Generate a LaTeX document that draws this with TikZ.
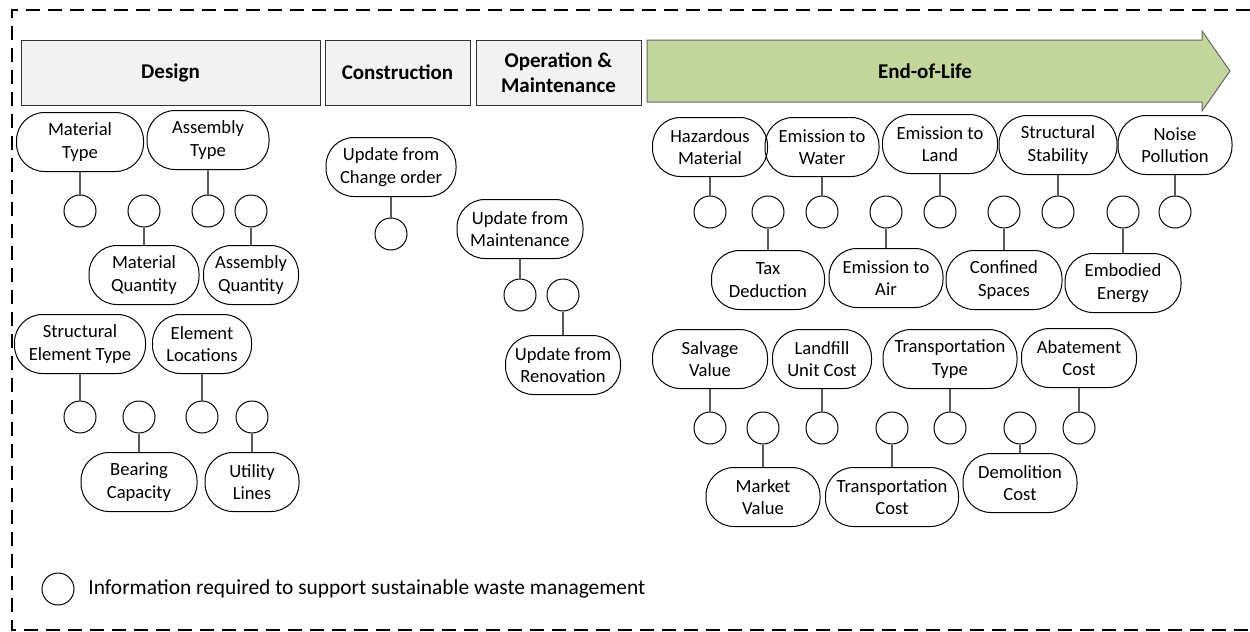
\documentclass[tikz,border=0pt]{standalone}
\usepackage{fontspec}
\setmainfont{Carlito}
\definecolor{eolgreen}{HTML}{C3D69B}
\definecolor{hdrgray}{HTML}{F2F2F2}
\definecolor{conngray}{HTML}{595959}
\begin{document}
\begin{tikzpicture}[x=0.5pt,y=-0.5pt,
  pill/.style={draw=black, line width=0.5pt, rounded corners=14pt, minimum height=29.5pt, inner sep=0pt, align=center, font=\fontsize{9.3}{11.3}\selectfont},
  circ/.style={draw=black, circle, minimum size=16pt, inner sep=0pt, line width=0.5pt},
  conn/.style={draw=conngray, line width=0.6pt},
  hdr/.style={draw=black!80, fill=hdrgray, line width=0.5pt, minimum height=32.5pt, inner sep=0pt, align=center, font=\fontsize{10.5}{12.6}\selectfont\bfseries},
  border/.style={draw=black, line width=0.6pt, dash pattern=on 7pt off 4pt}
]
\useasboundingbox (0,0) rectangle (1250,632);
% frame
\draw[border] (1250,10) -- (12,10) -- (12,630) -- (1250,630);
% headers
\node[hdr, minimum width=149.5pt] (design) at (170.5,72.5) {Design};
\node[hdr, minimum width=72.5pt] (constr) at (397.5,72.5) {Construction};
\node[hdr, minimum width=82.5pt] (om) at (558.5,72.5) {Operation \&\\Maintenance};
\draw[draw=black!60, fill=eolgreen, line width=0.5pt] (647,40) -- (1202,40) -- (1202,31) -- (1230,71) -- (1202,111) -- (1202,102) -- (647,102) -- cycle;
\node[font=\fontsize{10.5}{12.6}\selectfont\bfseries] (eol) at (925,71) {End-of-Life};

% Design
\node[pill, minimum width=63.5pt] (mt) at (80,142) {Material\\Type};
\node[pill, minimum width=61pt] (at) at (208,140) {Assembly\\Type};
\node[circ] (d1) at (80,211) {};
\node[circ] (d2) at (144,211) {};
\node[circ] (d3) at (208,211) {};
\node[circ] (d4) at (251,211) {};
\node[pill, minimum width=55pt] (mq) at (144,275) {Material\\Quantity};
\node[pill, minimum width=47.5pt] (aq) at (251,275) {Assembly\\Quantity};
\node[pill, minimum width=65.5pt] (set) at (80,344) {Structural\\Element Type};
\node[pill, minimum width=49.5pt] (el) at (202,344) {Element\\Locations};
\node[circ] (d5) at (80,417) {};
\node[circ] (d6) at (139,417) {};
\node[circ] (d7) at (202,417) {};
\node[circ] (d8) at (252,417) {};
\node[pill, minimum width=58pt] (bc) at (139,482) {Bearing\\Capacity};
\node[pill, minimum width=47pt] (ul) at (252,482) {Utility\\Lines};
\draw[conn] (mt) -- (d1);
\draw[conn] (at) -- (d3);
\draw[conn] (d2) -- (mq);
\draw[conn] (d4) -- (aq);
\draw[conn] (set) -- (d5);
\draw[conn] (el) -- (d7);
\draw[conn] (d6) -- (bc);
\draw[conn] (d8) -- (ul);

% Construction / O&M
\node[pill, minimum width=65pt] (uc) at (391,167) {Update from\\Change order};
\node[circ] (k1) at (391,234) {};
\node[pill, minimum width=63pt] (um) at (520,229) {Update from\\Maintenance};
\node[circ] (k2) at (520,295) {};
\node[circ] (k3) at (563,295) {};
\node[pill, minimum width=57.5pt] (ur) at (563,365) {Update from\\Renovation};
\draw[conn] (uc) -- (k1);
\draw[conn] (um) -- (k2);
\draw[conn] (k3) -- (ur);

% End-of-Life rows 1-2
\node[pill, minimum width=57.5pt] (haz) at (710,147) {Hazardous\\Material};
\node[pill, minimum width=57pt] (ewa) at (822,147) {Emission to\\Water};
\node[pill, minimum width=57.5pt] (ela) at (940,144) {Emission to\\Land};
\node[pill, minimum width=59pt] (sst) at (1058,145) {Structural\\Stability};
\node[pill, minimum width=57pt] (noi) at (1175,145) {Noise\\Pollution};
\node[circ] (e1) at (710,212) {};
\node[circ] (e2) at (768,212) {};
\node[circ] (e3) at (822,212) {};
\node[circ] (e4) at (886,212) {};
\node[circ] (e5) at (940,212) {};
\node[circ] (e6) at (1004,212) {};
\node[circ] (e7) at (1058,212) {};
\node[circ] (e8) at (1123,212) {};
\node[circ] (e9) at (1175,212) {};
\node[pill, minimum width=56.5pt] (tax) at (768,280) {Tax\\Deduction};
\node[pill, minimum width=57pt] (eai) at (886,278) {Emission to\\Air};
\node[pill, minimum width=58pt] (csp) at (1004,280) {Confined\\Spaces};
\node[pill, minimum width=58pt] (emb) at (1123,283) {Embodied\\Energy};
\draw[conn] (haz) -- (e1);
\draw[conn] (ewa) -- (e3);
\draw[conn] (ela) -- (e5);
\draw[conn] (sst) -- (e7);
\draw[conn] (noi) -- (e9);
\draw[conn] (e2) -- (tax);
\draw[conn] (e4) -- (eai);
\draw[conn] (e6) -- (csp);
\draw[conn] (e8) -- (emb);

% End-of-Life rows 3-4
\node[pill, minimum width=57.5pt] (sal) at (710,359) {Salvage\\Value};
\node[pill, minimum width=49.5pt] (lfc) at (822,359) {Landfill\\Unit Cost};
\node[pill, minimum width=67pt] (trt) at (950,359) {Transportation\\Type};
\node[pill, minimum width=57.5pt] (aba) at (1079,358) {Abatement\\Cost};
\node[circ] (f1) at (710,428) {};
\node[circ] (f2) at (763,428) {};
\node[circ] (f3) at (822,428) {};
\node[circ] (f4) at (892,428) {};
\node[circ] (f5) at (950,428) {};
\node[circ] (f6) at (1020,428) {};
\node[circ] (f7) at (1079,428) {};
\node[pill, minimum width=57pt] (mkt) at (763,497) {Market\\Value};
\node[pill, minimum width=66.5pt] (trc) at (892,497) {Transportation\\Cost};
\node[pill, minimum width=57pt] (dem) at (1020,483) {Demolition\\Cost};
\draw[conn] (sal) -- (f1);
\draw[conn] (lfc) -- (f3);
\draw[conn] (trt) -- (f5);
\draw[conn] (aba) -- (f7);
\draw[conn] (f2) -- (mkt);
\draw[conn] (f4) -- (trc);
\draw[conn] (f6) -- (dem);

% legend
\node[circ] (lg) at (58,589) {};
\node[anchor=west, inner sep=0pt, font=\fontsize{10.7}{12.8}\selectfont] (lgt) at (88,589) {Information required to support sustainable waste management};
\end{tikzpicture}
\end{document}
